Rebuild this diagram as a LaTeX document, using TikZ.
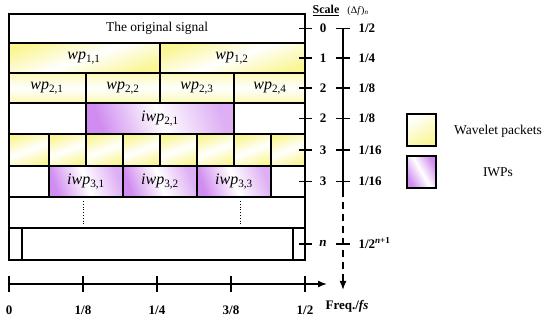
\documentclass[tikz,border=0pt]{standalone}
\usepackage{fontspec}
\setmainfont{Liberation Serif}
\usetikzlibrary{arrows.meta,calc,positioning}
\definecolor{wpyel}{RGB}{250,246,150}
\definecolor{iwpvio}{RGB}{208,140,240}
\newcommand{\wpl}[1]{\textit{wp}\textsubscript{#1}}
\newcommand{\iwpl}[1]{\textit{iwp}\textsubscript{#1}}
\tikzset{
  gridline/.style={line width=1.3pt},
  wpcell/.style={gridline, draw, top color=wpyel, bottom color=wpyel, middle color=white, shading angle=20},
  iwpcell/.style={gridline, draw, left color=iwpvio, right color=iwpvio!70, middle color=white, shading angle=110},
  axis/.style={line width=1.5pt},
  lbl/.style={font=\fontsize{16}{18}\selectfont},
  num/.style={font=\fontsize{13}{15}\selectfont\bfseries}
}

\begin{document}
\begin{tikzpicture}[x=1pt, y=-1pt, font=\fontsize{13.5}{16}\selectfont]
  \useasboundingbox (0,0) rectangle (550,323);
  % Row 1: the original signal
  \node (orig) at (157,28.5) {The original signal};
  \draw[gridline] (9,43) -- (305,43);
  % Row 2: wp_{1,k}
  \foreach \xa/\xb in {9/160,160/305}
    \shade[wpcell] (\xa,43) rectangle (\xb,73);
  \node[lbl] (wp11) at (84,58) {\wpl{1,1}};
  \node[lbl] (wp12) at (232,58) {\wpl{1,2}};
  % Row 3: wp_{2,k}
  \foreach \xa/\xb in {9/86,86/160,160/234,234/305}
    \shade[wpcell, top color=wpyel!70, bottom color=wpyel!70, middle color=white] (\xa,73) rectangle (\xb,103);
  \foreach \xc [count=\k] in {47,123,197,270}
    \node[lbl] (wp2\k) at (\xc,88) {\wpl{2,\k}};
  % Row 4: iwp_{2,1}
  \draw[gridline] (9,103) rectangle (305,134);
  \shade[iwpcell] (86,103) rectangle (234,134);
  \node[lbl] (iwp21) at (160,118.5) {\iwpl{2,1}};
  % Row 5: eight wavelet packets
  \foreach \xa/\xb in {9/49,49/86,86/123,123/160,160/197,197/234,234/271,271/305}
    \shade[wpcell] (\xa,134) rectangle (\xb,166);
  % Row 6: iwp_{3,k}
  \draw[gridline] (9,166) rectangle (305,197);
  \foreach \xa/\xb [count=\k] in {49/123,123/197,197/271} {
    \shade[iwpcell] (\xa,166) rectangle (\xb,197);
    \node[lbl] (iwp3\k) at ({(\xa+\xb)/2},181.5) {\iwpl{3,\k}};
  }
  % Row 7: dots
  \draw[gridline] (9,197) rectangle (305,228);
  \draw[line width=0.8pt, dotted] (83,201) -- (83,225);
  \draw[line width=0.8pt, dotted] (240,201) -- (240,225);
  % Row 8: level n
  \draw[gridline] (9,228) rectangle (305,260);
  \draw[gridline] (22,228) -- (22,260);
  \draw[gridline] (293,228) -- (293,260);
  % Outer frame
  \draw[line width=2.2pt] (9,14) rectangle (305,260);

  % Scale and (Delta f)_n
  \node[font=\fontsize{12}{14}\selectfont\bfseries] (scale) at (326,10.5) {\underline{Scale}};
  \node[font=\fontsize{10}{12}\selectfont] (df) at (358,11) {(Δ\textit{f})\textsubscript{\textit{n}}};
  \coordinate (dtop) at (343,28.5);
  \coordinate (dmid) at (343,190);
  \coordinate (dend) at (343,290);
  \draw[axis] (dtop) -- (dmid);
  \draw[axis, dash pattern=on 7pt off 5pt, -{Latex[length=9pt,width=7pt]}] (dmid) -- (dend);
  \foreach \yy/\sc/\dv [count=\i] in {28.5/0/{1/2},58/1/{1/4},88/2/{1/8},118.5/2/{1/8},150/3/{1/16},181.5/3/{1/16}} {
    \draw[axis] (299,\yy) -- (312,\yy);
    \draw[axis] (336,\yy) -- (350,\yy);
    \node[num] (sc\i) at (323,\yy) {\sc};
    \node[num, anchor=west] (dv\i) at (355,\yy) {\dv};
  }
  \draw[axis] (299,244) -- (312,244);
  \draw[axis] (336,244) -- (350,244);
  \node[num] (scn) at (323,243) {\textit{n}};
  \node[num, anchor=west] (dvn) at (355,243) {1/2\textsuperscript{\textit{n}+1}};

  % Frequency axis
  \coordinate (f0) at (9,284);
  \coordinate (fend) at (327,284);
  \draw[axis, -{Latex[length=9pt,width=7pt]}] (f0) -- (fend);
  \foreach \xx/\fl [count=\i] in {9/0,83/{1/8},157/{1/4},231/{3/8},305/{1/2}} {
    \draw[axis] (\xx,276) -- (\xx,292);
    \node[num] (fl\i) at (\xx,310) {\fl};
  }
  \node[num] (freq) at (347,306) {Freq./\textit{fs}};

  % Legend
  \shade[gridline, draw, top color=white, bottom color=wpyel, shading angle=30] (407,114) rectangle (436,146);
  \node (lwp) at (498,131) {Wavelet packets};
  \shade[gridline, draw, left color=iwpvio, right color=iwpvio, middle color=white, shading angle=120] (407,156) rectangle (436,188);
  \node (liwp) at (498,172) {IWPs};
\end{tikzpicture}
\end{document}
